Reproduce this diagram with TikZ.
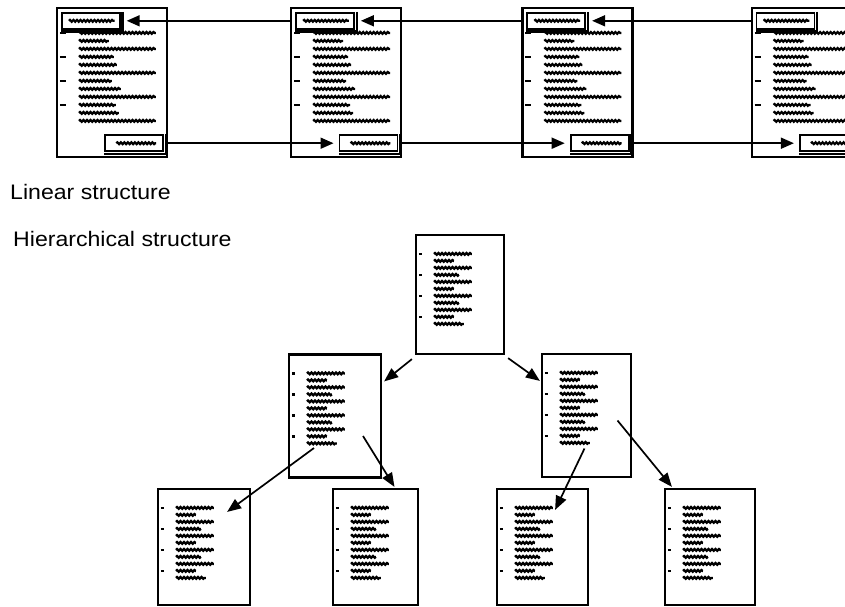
\documentclass[tikz,border=0pt]{standalone}
\usepackage{fontspec}
\setmainfont{Liberation Sans}
\usetikzlibrary{positioning, arrows.meta, calc, decorations.pathmorphing}

\begin{document}
\begin{tikzpicture}[
        x=1pt, y=-1pt,
        node distance=120pt,
        page/.style={rectangle, draw, line width=2.2pt, inner sep=0pt},
        toppage/.style={page, minimum width=110pt, minimum height=149pt},
        treepage/.style={page, minimum width=90pt, minimum height=123pt},
        leafpage/.style={page, minimum width=90pt, minimum height=116pt},
        linkbox/.style={rectangle, draw, line width=1.8pt, inner sep=0pt, minimum width=58pt, minimum height=16pt},
        txt/.style={line width=2.2pt, decorate, decoration={snake, amplitude=0.9pt, segment length=3.5pt}},
        bullet/.style={line width=2.2pt},
        link/.style={-{Triangle[length=13pt, width=11pt]}, line width=1.7pt},
        treelink/.style={-{Triangle[length=14pt, width=11pt]}, line width=1.7pt},
        caption/.style={font=\fontsize{21}{25}\selectfont, anchor=base west, inner sep=0pt}
    ]
        \useasboundingbox (0,0) rectangle (845,606);
        \clip (0,0) rectangle (845,606);

        % Linear structure: a chain of pages
        \node[toppage] (lp1) at (112,82.5) {};
        \node[toppage, right=122pt of lp1] (lp2) {};
        \node[toppage, right=119pt of lp2] (lp3) {};
        \node[toppage, right=117pt of lp3] (lp4) {};

        \foreach \p in {lp1,lp2,lp3,lp4} {
            \node[linkbox, below right=5pt and 5pt of \p.north west] (\p-prev) {};
            \node[linkbox, above left=6pt and 4pt of \p.south east] (\p-next) {};
            \draw[line width=2.4pt] ([xshift=1.8pt]\p-prev.north east) |- ([yshift=-1.8pt]\p-prev.south west);
            \draw[line width=2.4pt] ([xshift=1.8pt]\p-next.north east) |- ([yshift=-1.8pt]\p-next.south west);
            \draw[txt] ([xshift=8pt]\p-prev.west) -- ([xshift=-6pt]\p-prev.east);
            \draw[txt] ([xshift=12pt]\p-next.west) -- ([xshift=-8pt]\p-next.east);
            \foreach \i/\len in {0/77,1/30,2/77,3/35,4/38,5/77,6/33,7/42,8/77,9/37,10/40,11/77}
                \draw[txt] ($(\p.north west)+(23,26+8*\i)$) -- ++(\len,0);
            \foreach \i in {0,3,6,9}
                \draw[bullet] ($(\p.north west)+(4,26+8*\i)$) -- ++(6,0);
        }

        % Previous links
        \draw[link] (lp2.west |- lp1-prev.east) -- ([xshift=6pt]lp1-prev.east);
        \draw[link] (lp3.west |- lp2-prev.east) -- ([xshift=6pt]lp2-prev.east);
        \draw[link] (lp4.west |- lp3-prev.east) -- ([xshift=6pt]lp3-prev.east);

        % Next links
        \draw[link] (lp1.east |- lp1-next.east) -- ([xshift=-5pt]lp2-next.west);
        \draw[link] (lp2.east |- lp2-next.east) -- ([xshift=-5pt]lp3-next.west);
        \draw[link] (lp3.east |- lp3-next.east) -- ([xshift=-5pt]lp4-next.west);

        \node[caption] (linear) at (10,199) {\scalebox{1.1}[1]{Linear structure}};
        \node[caption] (hier) at (13,246) {\scalebox{1.1}[1]{Hierarchical structure}};

        % Hierarchical structure: a tree of pages
        \node[treepage, minimum width=88pt, minimum height=119pt] (hTop) at (460,294.5) {};
        \node[treepage, minimum width=92pt] (hL) at (335,416) {};
        \node[treepage, minimum width=89pt] (hR) at (586.5,415.5) {};
        \node[leafpage, minimum width=92pt] (b1) at (204,547) {};
        \node[leafpage, minimum width=85pt] (b2) at (375.5,547) {};
        \node[leafpage, minimum width=91pt] (b3) at (542.5,547) {};
        \node[leafpage] (b4) at (710,547) {};

        \foreach \p in {hTop,hL,hR,b1,b2,b3,b4} {
            \foreach \i/\len in {0/38,1/20,2/38,3/25,4/38,5/20,6/38,7/25,8/38,9/20,10/30}
                \draw[txt] ($(\p.north west)+(19,20+7*\i)$) -- ++(\len,0);
            \foreach \i in {0,3,6,9}
                \draw[bullet] ($(\p.north west)+(4,20+7*\i)$) -- ++(3,0);
        }

        \draw[treelink] ($(hTop.south west)+(-3,4)$) -- ($(hL.north east)+(2,28)$);
        \draw[treelink] ($(hTop.south east)+(3,3)$) -- ($(hR.north west)+(-1,28)$);
        \draw[treelink] ($(hL.center)+(-21,32)$) -- ($(b1.north east)+(-24,24)$);
        \draw[treelink] ($(hL.center)+(28,20)$) -- ($(b2.north)+(19,-1)$);
        \draw[treelink] ($(hR.center)+(-2,33)$) -- ($(b3.north east)+(-34,22)$);
        \draw[treelink] ($(hR.center)+(31,5)$) -- ($(b4.north west)+(8,-1)$);

    \end{tikzpicture}
\end{document}
